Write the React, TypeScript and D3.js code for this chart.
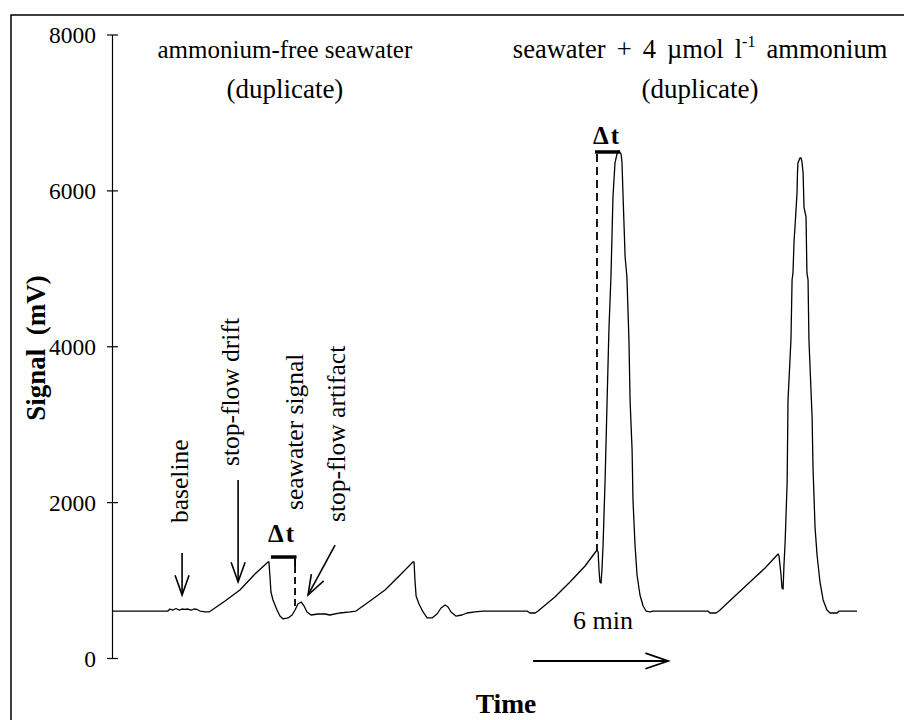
import React from 'react';
import * as d3 from 'd3';

// Trace: time (min) vs signal (mV)
const traceTime = [
  0, 2.44, 2.53, 2.67, 2.8, 2.93, 3.07, 3.2, 3.33, 3.47, 3.6, 3.73, 3.87, 4.09, 4.27, 4.4,
  4.98, 5.64, 6.31, 6.89, 6.93, 6.98, 7.02, 7.11, 7.29, 7.42, 7.56, 7.78, 7.96, 8.09, 8.22,
  8.36, 8.49, 8.62, 8.8, 9.11, 9.42, 9.64, 10.09, 10.53, 10.8, 11.42, 12.09, 12.76, 13.33,
  13.38, 13.42, 13.47, 13.6, 13.78, 13.96, 14.18, 14.4, 14.58, 14.76, 14.89, 15.02, 15.24,
  15.51, 15.73, 16.09, 16.44, 18.4, 18.53, 18.76, 18.89, 19.64, 20.31, 20.98, 21.51, 21.56,
  21.6, 21.64, 21.69, 21.73, 21.78, 21.87, 21.96, 22.04, 22.13, 22.18, 22.22, 22.31, 22.4,
  22.49, 22.58, 22.62, 22.67, 22.76, 22.84, 22.93, 22.98, 23.07, 23.11, 23.2, 23.29, 23.42,
  23.56, 23.69, 23.87, 24.0, 26.44, 26.53, 26.8, 26.93, 27.64, 28.31, 28.98, 29.56, 29.6,
  29.69, 29.73, 29.78, 29.82, 29.87, 29.96, 30.0, 30.13, 30.18, 30.22, 30.27, 30.31, 30.4,
  30.42, 30.44, 30.53, 30.58, 30.62, 30.67, 30.71, 30.8, 30.84, 30.89, 30.93, 31.07, 31.11,
  31.2, 31.29, 31.42, 31.56, 31.73, 31.87, 32.18, 32.27, 33.07,
];
const traceSignal = [
  609, 609, 635, 622, 641, 622, 635, 629, 635, 622, 635, 629, 609, 597, 597, 622,
  738, 879, 1084, 1238, 1238, 1033, 853, 751, 622, 545, 507, 520, 558, 622, 699,
  725, 674, 597, 558, 571, 571, 558, 584, 597, 609, 738, 879, 1071, 1238,
  1238, 1007, 802, 699, 597, 520, 520, 571, 648, 686, 661, 597, 545,
  558, 584, 597, 609, 609, 584, 584, 609, 789, 982, 1187, 1392, 1366,
  1136, 982, 969, 1136, 1456, 2290, 3317, 4215, 4895, 5460, 5922, 6358, 6473,
  6512, 6473, 6371, 5922, 5152, 4895, 4087, 3317, 2675, 2034, 1456, 1071, 815,
  674, 609, 597, 609, 609, 584, 584, 609, 802, 982, 1161, 1341, 1315,
  1071, 905, 892, 1200, 1482, 2252, 3317, 4087, 4857, 4947, 5370, 5537, 5973,
  6229, 6358, 6422, 6422, 6371, 6229, 5793, 5665, 4947, 4857, 4087, 3099, 2457,
  1687, 1328, 982, 751, 622, 584, 584, 609, 609,
];

const yTicks = [0, 2000, 4000, 6000, 8000];

// Annotation labels (rotated)
const noteTimes = [3.33, 5.6, 8.44, 10.31];
const noteSignals = [1739, 2470, 1905, 1751];
const noteLabels = ['baseline', 'stop-flow drift', 'seawater signal', 'stop-flow artifact'];

// Arrows: from (t1,s1) to (t2,s2)
const arrowT1 = [3.07, 5.56, 9.87];
const arrowS1 = [1354, 2290, 1456];
const arrowT2 = [3.07, 5.56, 8.67];
const arrowS2 = [815, 982, 815];

// Δt brackets
const dt1 = { tA: 7.02, tB: 8.09, s: 1302, sEnd: 661, labelT: 7.51, labelS: 1495 };
const dt2 = { tA: 21.42, tB: 22.53, tDash: 21.51, s: 6499, sEnd: 1392, labelT: 21.96, labelS: 6601 };

const titleLeft = ['ammonium-free seawater', '(duplicate)'];
const titleRightL2 = '(duplicate)';
const titleTimes = [7.64, 26.09];
const titleSignals = [7705, 7192];

const timeArrow = { t1: 18.67, t2: 24.67, s: -32, label: '6 min', labelT: 21.78, labelS: 379 };

const W = 904;
const H = 720;
const FONT = "'Liberation Serif', 'Times New Roman', serif";

function arrowHead(x1: number, y1: number, x2: number, y2: number, len = 21, ang = 0.34) {
  const a = Math.atan2(y2 - y1, x2 - x1);
  const p1 = [x2 - len * Math.cos(a - ang), y2 - len * Math.sin(a - ang)];
  const p2 = [x2 - len * Math.cos(a + ang), y2 - len * Math.sin(a + ang)];
  return `M${p1[0]},${p1[1]}L${x2},${y2}L${p2[0]},${p2[1]}`;
}

export default function App() {
  const x = d3.scaleLinear().domain([0, 33.11]).range([113, 858]);
  const y = d3.scaleLinear().domain([0, 8000]).range([658.5, 35]);
  const axisX = 112.5;

  const pts: [number, number][] = traceTime.map((t, i) => [t, traceSignal[i]]);
  const line = d3
    .line<[number, number]>()
    .x((d) => x(d[0]))
    .y((d) => y(d[1]));

  return (
    <svg
      width={W}
      height={H}
      style={{ position: 'absolute', left: 0, top: 0, background: '#fff' }}
      fontFamily={FONT}
    >
      <rect x={0} y={0} width={W} height={H} fill="#fff" />
      <rect x={11} y={15} width={905} height={720} fill="none" stroke="#000" strokeWidth={1.5} />

      {/* Y axis */}
      <line x1={axisX} x2={axisX} y1={y(8000)} y2={y(0)} stroke="#000" strokeWidth={1.2} />
      {yTicks.map((v) => (
        <g key={v}>
          <line x1={axisX - 5.5} x2={axisX + 5.5} y1={y(v)} y2={y(v)} stroke="#000" strokeWidth={1.2} />
          <text x={96} y={y(v) + 8} textAnchor="end" fontSize={23.5}>
            {v}
          </text>
        </g>
      ))}
      <text
        transform={`translate(45, ${348}) rotate(-90)`}
        textAnchor="middle"
        fontSize={27}
        fontWeight="bold"
        style={{ whiteSpace: 'pre' }}
      >
        {'Signal  (mV)'}
      </text>
      <text x={506} y={713} textAnchor="middle" fontSize={27.5} fontWeight="bold">
        Time
      </text>

      {/* Trace */}
      <path d={line(pts) || ''} fill="none" stroke="#000" strokeWidth={1.3} strokeLinejoin="round" />

      {/* Titles */}
      <text x={x(titleTimes[0])} y={y(titleSignals[0])} textAnchor="middle" fontSize={25}>
        {titleLeft[0]}
      </text>
      <text x={x(titleTimes[0])} y={y(titleSignals[1])} textAnchor="middle" fontSize={27}>
        {titleLeft[1]}
      </text>
      <text
        x={x(titleTimes[1])}
        y={y(titleSignals[0])}
        textAnchor="middle"
        fontSize={26.5}
        wordSpacing={4.5}
      >
        seawater + 4 µmol l
        <tspan dy={-11} fontSize={16}>-1</tspan>
        <tspan dy={11}>{' ammonium'}</tspan>
      </text>
      <text x={x(titleTimes[1])} y={y(titleSignals[1])} textAnchor="middle" fontSize={27}>
        {titleRightL2}
      </text>

      {/* Rotated notes */}
      {noteLabels.map((lab, i) => (
        <text
          key={lab}
          transform={`translate(${x(noteTimes[i])}, ${y(noteSignals[i])}) rotate(-90)`}
          fontSize={25.5}
        >
          {lab}
        </text>
      ))}

      {/* Arrows */}
      {arrowT1.map((t, i) => {
        const x1 = x(t), y1 = y(arrowS1[i]), x2 = x(arrowT2[i]), y2 = y(arrowS2[i]);
        return (
          <g key={i} stroke="#000" strokeWidth={1.6} fill="none">
            <line x1={x1} y1={y1} x2={x2} y2={y2} />
            <path d={arrowHead(x1, y1, x2, y2)} />
          </g>
        );
      })}

      {/* Δt bracket 1 */}
      <line x1={x(dt1.tA)} x2={x(dt1.tB) + 1.5} y1={y(dt1.s)} y2={y(dt1.s)} stroke="#000" strokeWidth={3.5} />
      <line x1={x(dt1.tB)} x2={x(dt1.tB)} y1={y(dt1.s)} y2={y(dt1.s) + 9} stroke="#000" strokeWidth={2} />
      <line
        x1={x(dt1.tB)}
        x2={x(dt1.tB)}
        y1={y(dt1.s) + 9}
        y2={y(dt1.sEnd)}
        stroke="#000"
        strokeWidth={1.8}
        strokeDasharray="7,4"
      />
      <text x={x(dt1.labelT)} y={y(dt1.labelS)} textAnchor="middle" fontSize={25} fontWeight="bold" letterSpacing={2}>
        Δt
      </text>

      {/* Δt bracket 2 */}
      <line x1={x(dt2.tA)} x2={x(dt2.tB)} y1={y(dt2.s)} y2={y(dt2.s)} stroke="#000" strokeWidth={3.5} />
      <line
        x1={x(dt2.tDash)}
        x2={x(dt2.tDash)}
        y1={y(dt2.s) + 2}
        y2={y(dt2.sEnd)}
        stroke="#000"
        strokeWidth={1.8}
        strokeDasharray="8,5"
      />
      <text x={x(dt2.labelT)} y={y(dt2.labelS)} textAnchor="middle" fontSize={25} fontWeight="bold" letterSpacing={2}>
        Δt
      </text>

      {/* 6 min arrow */}
      <g stroke="#000" strokeWidth={1.8} fill="none">
        <line x1={x(timeArrow.t1)} x2={x(timeArrow.t2)} y1={y(timeArrow.s)} y2={y(timeArrow.s)} />
        <path d={arrowHead(x(timeArrow.t1), y(timeArrow.s), x(timeArrow.t2), y(timeArrow.s), 24, 0.33)} />
      </g>
      <text x={x(timeArrow.labelT)} y={y(timeArrow.labelS)} textAnchor="middle" fontSize={26}>
        {timeArrow.label}
      </text>
    </svg>
  );
}
